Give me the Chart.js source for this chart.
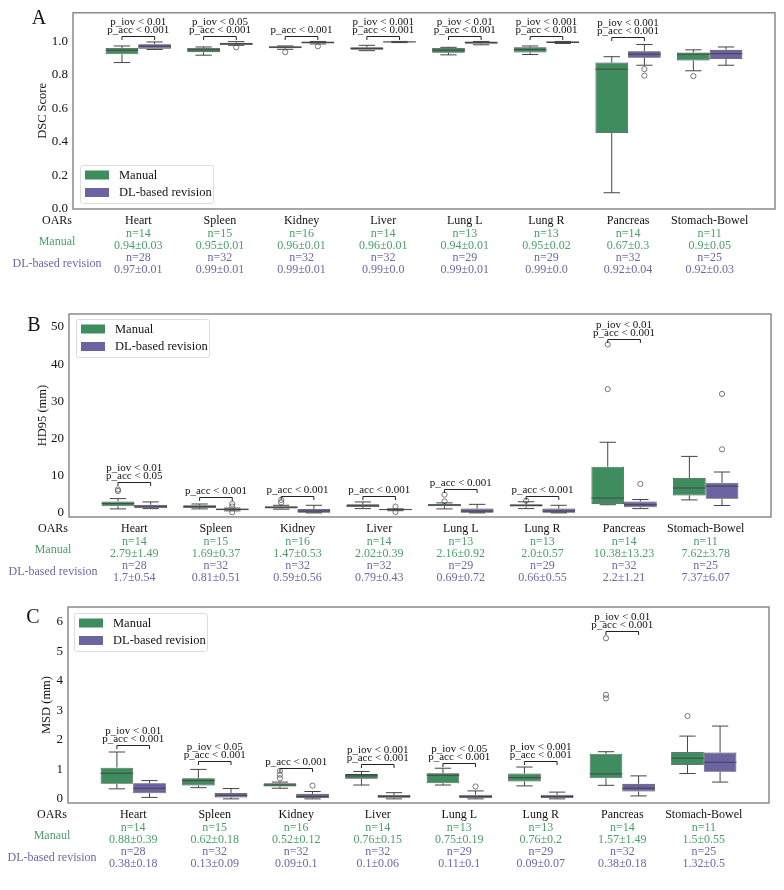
<!DOCTYPE html>
<html>
<head>
<meta charset="utf-8">
<title>DSC / HD95 / MSD per OAR</title>
<script src="https://cdn.jsdelivr.net/npm/chart.js"></script>
<style>
  body { margin: 0; background: #ffffff; }
  canvas { display: block; }
</style>
</head>
<body>
<canvas id="dsc" width="784" height="295"></canvas>
<canvas id="hd95" width="784" height="295"></canvas>
<canvas id="msd" width="784" height="300"></canvas>
<script>
// categories
const organs = ['Heart', 'Spleen', 'Kidney', 'Liver', 'Lung L', 'Lung R', 'Pancreas', 'Stomach-Bowel'];

// box stats per organ: [lower whisker, q1, median, q3, upper whisker]
const dscManual = [[0.874, 0.924, 0.948, 0.961, 0.973], [0.918, 0.936, 0.950, 0.961, 0.967], [0.953, 0.959, 0.965, 0.971, 0.973], [0.945, 0.950, 0.958, 0.965, 0.977],
                   [0.920, 0.932, 0.948, 0.961, 0.965], [0.922, 0.934, 0.951, 0.965, 0.973], [0.097, 0.454, 0.835, 0.874, 0.909], [0.825, 0.886, 0.924, 0.934, 0.950]];
const dscDL = [[0.952, 0.957, 0.971, 0.983, 0.997], [0.977, 0.979, 0.987, 0.992, 0.999], [0.985, 0.988, 0.994, 0.999, 1.0], [0.993, 0.995, 0.997, 0.999, 1.0],
               [0.980, 0.986, 0.994, 0.999, 1.0], [0.988, 0.991, 0.996, 0.999, 1.0], [0.858, 0.903, 0.924, 0.942, 0.982], [0.858, 0.895, 0.927, 0.950, 0.967]];
const dscManualOut = [[], [], [0.936], [], [], [], [], [0.793]];
const dscDLOut = [[], [0.965], [0.971], [], [], [], [0.835, 0.796], []];

const hdManual = [[1.08, 1.8, 2.5, 3.1, 3.85], [1.08, 1.34, 1.7, 2.05, 2.4], [1.0, 1.16, 1.5, 1.8, 2.05], [1.15, 1.6, 1.95, 2.3, 2.95],
                  [1.08, 1.8, 2.1, 2.4, 2.7], [1.16, 1.7, 2.0, 2.3, 3.0], [2.2, 2.4, 4.0, 12.4, 19.0], [3.5, 4.7, 6.7, 9.4, 15.2]];
const hdDL = [[1.15, 1.3, 1.8, 2.2, 2.95], [0.55, 0.7, 0.95, 1.16, 1.3], [0.0, 0.05, 0.5, 1.07, 2.05], [0.6, 0.75, 0.9, 1.0, 1.1],
              [0.0, 0.05, 0.5, 1.16, 2.3], [0.0, 0.05, 0.5, 1.16, 2.05], [1.16, 1.5, 2.2, 3.1, 3.6], [2.0, 3.8, 7.2, 8.1, 11.0]];
const hdManualOut = [[5.9, 6.3], [], [2.8, 3.5], [], [3.1, 4.9], [3.3], [33.3, 45.3], []];
const hdDLOut = [[], [1.7, 2.4, 0.2], [], [1.7, 0.25], [], [], [7.8], [17.1, 32.0]];

const msdManual = [[0.34, 0.51, 0.87, 1.06, 1.59], [0.38, 0.45, 0.62, 0.70, 1.0], [0.36, 0.42, 0.47, 0.53, 0.57], [0.47, 0.68, 0.78, 0.84, 0.93],
                   [0.47, 0.53, 0.80, 0.87, 1.04], [0.44, 0.59, 0.72, 0.86, 1.08], [0.46, 0.70, 0.85, 1.53, 1.60], [0.86, 1.15, 1.38, 1.59, 2.13]];
const msdDL = [[0.05, 0.19, 0.36, 0.53, 0.62], [0.0, 0.05, 0.12, 0.20, 0.35], [0.0, 0.03, 0.08, 0.17, 0.25], [0.0, 0.04, 0.08, 0.13, 0.21],
               [0.0, 0.03, 0.08, 0.14, 0.27], [0.0, 0.03, 0.08, 0.14, 0.23], [0.10, 0.25, 0.36, 0.51, 0.78], [0.57, 0.92, 1.24, 1.57, 2.47]];
const msdManualOut = [[], [], [0.70, 0.82, 0.95], [], [], [], [3.41, 3.53, 5.45], [2.81]];
const msdDLOut = [[], [], [0.45], [], [0.42], [], [], []];

// table under each panel
const manualN = [14, 15, 16, 14, 13, 13, 14, 11];
const dlN = [28, 32, 32, 32, 29, 29, 32, 25];
const dscManualStat = ['0.94±0.03', '0.95±0.01', '0.96±0.01', '0.96±0.01', '0.94±0.01', '0.95±0.02', '0.67±0.3', '0.9±0.05'];
const dscDLStat = ['0.97±0.01', '0.99±0.01', '0.99±0.01', '0.99±0.0', '0.99±0.01', '0.99±0.0', '0.92±0.04', '0.92±0.03'];
const hdManualStat = ['2.79±1.49', '1.69±0.37', '1.47±0.53', '2.02±0.39', '2.16±0.92', '2.0±0.57', '10.38±13.23', '7.62±3.78'];
const hdDLStat = ['1.7±0.54', '0.81±0.51', '0.59±0.56', '0.79±0.43', '0.69±0.72', '0.66±0.55', '2.2±1.21', '7.37±6.07'];
const msdManualStat = ['0.88±0.39', '0.62±0.18', '0.52±0.12', '0.76±0.15', '0.75±0.19', '0.76±0.2', '1.57±1.49', '1.5±0.55'];
const msdDLStat = ['0.38±0.18', '0.13±0.09', '0.09±0.1', '0.1±0.06', '0.11±0.1', '0.09±0.07', '0.38±0.18', '1.32±0.5'];

// significance brackets (value on y axis) and their labels
const dscBracket = [1.035, 1.035, 1.035, 1.035, 1.035, 1.035, 1.026, null];
const dscSig = [['p_iov < 0.01', 'p_acc < 0.001'], ['p_iov < 0.05', 'p_acc < 0.001'], ['p_acc < 0.001'], ['p_iov < 0.001', 'p_acc < 0.001'],
                ['p_iov < 0.01', 'p_acc < 0.001'], ['p_iov < 0.001', 'p_acc < 0.001'], ['p_iov < 0.001', 'p_acc < 0.001'], []];
const hdBracket = [8.2, 4.2, 4.6, 4.6, 6.45, 4.6, 46.9, null];
const hdSig = [['p_iov < 0.01', 'p_acc < 0.05'], ['p_acc < 0.001'], ['p_acc < 0.001'], ['p_acc < 0.001'],
               ['p_acc < 0.001'], ['p_acc < 0.001'], ['p_iov < 0.01', 'p_acc < 0.001'], []];
const msdBracket = [1.83, 1.27, 1.06, 1.18, 1.23, 1.30, 5.69, null];
const msdSig = [['p_iov < 0.01', 'p_acc < 0.001'], ['p_iov < 0.05', 'p_acc < 0.001'], ['p_acc < 0.001'], ['p_iov < 0.001', 'p_acc < 0.001'],
                ['p_iov < 0.05', 'p_acc < 0.001'], ['p_iov < 0.001', 'p_acc < 0.001'], ['p_iov < 0.01', 'p_acc < 0.001'], []];

// tick labels
const dscTicks = [0.0, 0.2, 0.4, 0.6, 0.8, 1.0];
const hdTicks = [0, 10, 20, 30, 40, 50];
const msdTicks = [0, 1, 2, 3, 4, 5, 6];

const GREEN = '#3f8d5f';
const PURPLE = '#6b63a2';
const GREEN_TXT = '#4a9e68';
const PURPLE_TXT = '#6e66a8';
const LINE = '#454545';
const SERIF = '"Liberation Serif", "Times New Roman", serif';
const OFF = 0.2;   // half of the group width (categoryPercentage 0.8)

// whiskers, caps, medians, brackets, table, legend, frame
const panelDecor = {
    id: 'panelDecor',
    afterDatasetsDraw(chart) {
        const p = chart.options.plugins.panelDecor;
        const { ctx, chartArea: a } = chart;
        const x = chart.scales.x, y = chart.scales.y;
        const capHalf = x.getPixelForValue(0.1) - x.getPixelForValue(0);
        ctx.save();
        ctx.beginPath();
        ctx.rect(a.left, a.top, a.width, a.height);
        ctx.clip();
        ctx.strokeStyle = LINE;
        ctx.lineWidth = 1;
        [p.manual, p.dl].forEach((series, g) => {
            const off = g === 0 ? -OFF : OFF;
            series.forEach((b, i) => {
                const cx = x.getPixelForValue(i + off);
                const [lo, q1, med, q3, hi] = b.map(v => y.getPixelForValue(v));
                const hw = x.getPixelForValue(i + off + OFF) - cx;
                ctx.beginPath();
                ctx.moveTo(cx, q1); ctx.lineTo(cx, lo);
                ctx.moveTo(cx, q3); ctx.lineTo(cx, hi);
                ctx.moveTo(cx - capHalf, lo); ctx.lineTo(cx + capHalf, lo);
                ctx.moveTo(cx - capHalf, hi); ctx.lineTo(cx + capHalf, hi);
                ctx.moveTo(cx - hw, med); ctx.lineTo(cx + hw, med);
                ctx.stroke();
            });
        });
        ctx.restore();
    },
    afterDraw(chart) {
        const p = chart.options.plugins.panelDecor;
        const { ctx, chartArea: a } = chart;
        const x = chart.scales.x, y = chart.scales.y;
        ctx.save();

        // brackets with p-values
        ctx.strokeStyle = '#222';
        ctx.lineWidth = 1;
        ctx.fillStyle = '#111';
        ctx.font = '11px ' + SERIF;
        ctx.textAlign = 'center';
        ctx.textBaseline = 'middle';
        p.bracket.forEach((bv, i) => {
            if (bv === null) return;
            const x0 = x.getPixelForValue(i - OFF), x1 = x.getPixelForValue(i + OFF);
            const by = Math.round(y.getPixelForValue(bv)) + 0.5;
            ctx.beginPath();
            ctx.moveTo(x0, by + 3.5); ctx.lineTo(x0, by); ctx.lineTo(x1, by); ctx.lineTo(x1, by + 3.5);
            ctx.stroke();
            const lines = p.sig[i];
            lines.forEach((t, k) => {
                const fromBottom = lines.length - 1 - k;
                ctx.fillText(t, x.getPixelForValue(i), by - 6 - fromBottom * 8.7);
            });
        });

        // frame
        ctx.strokeStyle = '#7a7a7a';
        ctx.lineWidth = 1.3;
        ctx.strokeRect(a.left, a.top, a.width, a.height);

        // legend
        const lg = p.legend;
        const lx = a.left + lg.dx;
        const ly = lg.atBottom ? a.bottom - lg.dy - 38 : a.top + lg.dy;
        ctx.fillStyle = 'rgba(255,255,255,0.85)';
        ctx.strokeStyle = '#dcdcdc';
        ctx.lineWidth = 1;
        ctx.beginPath();
        ctx.roundRect(lx + 0.5, ly + 0.5, 133, 38, 2);
        ctx.fill();
        ctx.stroke();
        ctx.font = '12.5px ' + SERIF;
        ctx.textAlign = 'left';
        ctx.textBaseline = 'middle';
        [['Manual', GREEN], ['DL-based revision', PURPLE]].forEach(([t, c], k) => {
            const ry = ly + 10 + k * 17.5;
            ctx.fillStyle = c;
            ctx.fillRect(lx + 5, ry - 4.5, 24, 9);
            ctx.fillStyle = '#111';
            ctx.fillText(t, lx + 39, ry + 0.5);
        });

        // y axis title and panel letter
        ctx.save();
        ctx.translate(p.titleX, (a.top + a.bottom) / 2);
        ctx.rotate(-Math.PI / 2);
        ctx.textAlign = 'center';
        ctx.fillStyle = '#111';
        ctx.font = '12.5px ' + SERIF;
        ctx.fillText(p.title, 0, 0);
        ctx.restore();
        ctx.font = '20px ' + SERIF;
        ctx.textAlign = 'center';
        ctx.fillStyle = '#111';
        ctx.fillText(p.letter, p.letterX, p.letterY);

        // table under the axis
        const rows = [12, 24.5, 37, 49, 61];
        ctx.font = '12px ' + SERIF;
        ctx.textAlign = 'center';
        organs.forEach((o, i) => {
            const cx = x.getPixelForValue(i);
            ctx.fillStyle = '#111';
            ctx.fillText(o, cx, a.bottom + rows[0]);
            ctx.fillStyle = GREEN_TXT;
            ctx.fillText('n=' + manualN[i], cx, a.bottom + rows[1]);
            ctx.fillText(p.manualStat[i], cx, a.bottom + rows[2]);
            ctx.fillStyle = PURPLE_TXT;
            ctx.fillText('n=' + dlN[i], cx, a.bottom + rows[3]);
            ctx.fillText(p.dlStat[i], cx, a.bottom + rows[4]);
        });
        const hx = a.left - 16;
        ctx.fillStyle = '#111';
        ctx.fillText('OARs', hx, a.bottom + rows[0]);
        ctx.fillStyle = GREEN_TXT;
        ctx.fillText(p.manualLabel, hx, a.bottom + 32.5);
        ctx.fillStyle = PURPLE_TXT;
        ctx.fillText('DL-based revision', hx, a.bottom + 55);
        ctx.restore();
    }
};

function outlierPoints(outs, off) {
    const pts = [];
    outs.forEach((vals, i) => vals.forEach(v => pts.push({ x: i + off, y: v })));
    return pts;
}

function makePanel(id, s) {
    const canvas = document.getElementById(id);
    const boxData = arr => arr.map((b, i) => ({ x: i, y: [b[1], b[3]] }));
    const outStyle = {
        type: 'scatter', pointStyle: 'circle', pointRadius: 2.6,
        backgroundColor: 'rgba(0,0,0,0)', borderColor: '#555', borderWidth: 0.8
    };
    new Chart(canvas, {
        type: 'bar',
        data: {
            datasets: [
                { label: 'Manual', data: boxData(s.manual), backgroundColor: GREEN, borderColor: LINE, borderWidth: 0.8, borderSkipped: false },
                { label: 'DL-based revision', data: boxData(s.dl), backgroundColor: PURPLE, borderColor: LINE, borderWidth: 0.8, borderSkipped: false },
                Object.assign({ label: 'Manual outliers', data: outlierPoints(s.manualOut, -OFF) }, outStyle),
                Object.assign({ label: 'DL outliers', data: outlierPoints(s.dlOut, OFF) }, outStyle)
            ]
        },
        options: {
            responsive: false,
            animation: false,
            events: [],
            categoryPercentage: 0.8,
            barPercentage: 1.0,
            layout: { padding: { left: 0, right: 784 - s.right, top: s.top, bottom: canvas.height - s.bottom } },
            scales: {
                x: {
                    type: 'linear', min: -0.8, max: 7.8, offset: false, display: false,
                    afterBuildTicks: sc => { sc.ticks = organs.map((_, i) => ({ value: i })); }
                },
                y: {
                    min: s.yMin, max: s.yMax,
                    grid: { display: false, drawTicks: false },
                    border: { display: false },
                    afterBuildTicks: sc => { sc.ticks = s.ticks.map(v => ({ value: v })); },
                    afterFit: sc => { sc.width = s.left; },
                    ticks: {
                        padding: 5, color: '#111',
                        font: { family: SERIF, size: 13 },
                        callback: v => s.fmt(v)
                    }
                }
            },
            plugins: {
                legend: { display: false },
                tooltip: { enabled: false },
                panelDecor: s.decor
            }
        },
        plugins: [panelDecor]
    });
}

makePanel('dsc', {
    manual: dscManual, dl: dscDL, manualOut: dscManualOut, dlOut: dscDLOut,
    left: 73, right: 775, top: 8, bottom: 209, yMin: 0, yMax: 1.171, ticks: dscTicks, fmt: v => v.toFixed(1),
    decor: {
        manual: dscManual, dl: dscDL, bracket: dscBracket, sig: dscSig,
        manualStat: dscManualStat, dlStat: dscDLStat, manualLabel: 'Manual',
        legend: { dx: 7, dy: 6, atBottom: true },
        title: 'DSC Score', titleX: 43, letter: 'A', letterX: 39, letterY: 19
    }
});

makePanel('hd95', {
    manual: hdManual, dl: hdDL, manualOut: hdManualOut, dlOut: hdDLOut,
    left: 69, right: 771, top: 19, bottom: 222, yMin: -1.1, yMax: 53.5, ticks: hdTicks, fmt: v => String(v),
    decor: {
        manual: hdManual, dl: hdDL, bracket: hdBracket, sig: hdSig,
        manualStat: hdManualStat, dlStat: hdDLStat, manualLabel: 'Manual',
        legend: { dx: 7, dy: 5, atBottom: false },
        title: 'HD95 (mm)', titleX: 43, letter: 'B', letterX: 34, letterY: 31
    }
});

makePanel('msd', {
    manual: msdManual, dl: msdDL, manualOut: msdManualOut, dlOut: msdDLOut,
    left: 68, right: 769, top: 17, bottom: 213, yMin: -0.14, yMax: 6.51, ticks: msdTicks, fmt: v => String(v),
    decor: {
        manual: msdManual, dl: msdDL, bracket: msdBracket, sig: msdSig,
        manualStat: msdManualStat, dlStat: msdDLStat, manualLabel: 'Manaul',
        legend: { dx: 6, dy: 6, atBottom: false },
        title: 'MSD (mm)', titleX: 47, letter: 'C', letterX: 33, letterY: 28
    }
});
</script>
</body>
</html>
